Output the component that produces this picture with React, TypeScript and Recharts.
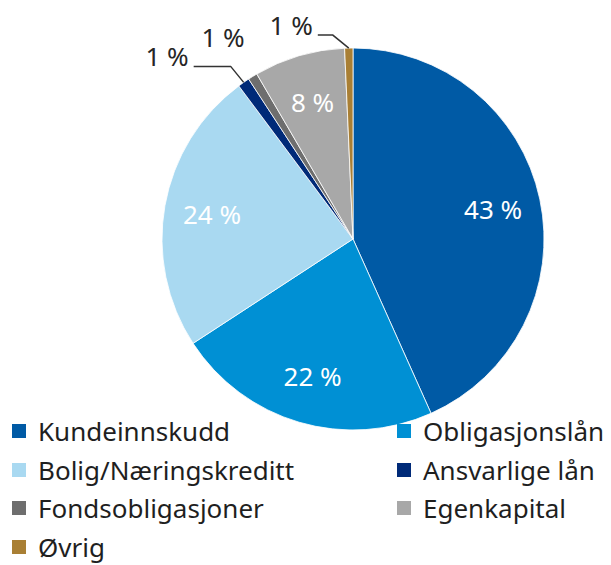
import { PieChart, Pie, Cell, Legend } from "recharts";

const categories = [
  "Kundeinnskudd",
  "Obligasjonslån",
  "Bolig/Næringskreditt",
  "Ansvarlige lån",
  "Fondsobligasjoner",
  "Egenkapital",
  "Øvrig",
];
const shares = [43.3, 22.5, 24.0, 1.0, 0.8, 7.7, 0.7];
const shareLabels = ["43 %", "22 %", "24 %", "1 %", "1 %", "8 %", "1 %"];
const colors = ["#005AA5", "#0090D4", "#A9D9F1", "#002A78", "#6E6E6E", "#A8A8A8", "#A97F34"];

const chartData = categories.map((name, i) => ({ name, value: shares[i], label: shareLabels[i] }));

const FONT = "'Noto Sans', sans-serif";
const RAD = Math.PI / 180;

// leader line / text offsets from the slice edge, for the thin slices
const outside: Record<string, { elbow?: [number, number]; end?: [number, number]; text: [number, number] }> = {
  "Ansvarlige lån": { elbow: [-13, -16], end: [-50, -16], text: [-55, -16] },
  Fondsobligasjoner: { text: [-8, -29] },
  Øvrig: { elbow: [-16, -13], end: [-31, -13], text: [-36, -13] },
};

function renderLabel(props: any) {
  const { cx, cy, midAngle, outerRadius, index } = props;
  const d = chartData[index];
  const lay = outside[d.name];
  if (!lay) {
    const r = outerRadius * 0.75;
    const x = cx + r * Math.cos(-midAngle * RAD);
    const y = cy + r * Math.sin(-midAngle * RAD);
    return (
      <text x={x} y={y} fill="#fff" fontSize={26} fontFamily={FONT} textAnchor="middle" dominantBaseline="central">
        {d.label}
      </text>
    );
  }
  const ex = cx + outerRadius * Math.cos(-midAngle * RAD);
  const ey = cy + outerRadius * Math.sin(-midAngle * RAD);
  return (
    <g>
      {lay.elbow && lay.end && (
        <polyline
          points={`${ex},${ey} ${ex + lay.elbow[0]},${ey + lay.elbow[1]} ${ex + lay.end[0]},${ey + lay.end[1]}`}
          fill="none"
          stroke="#333"
          strokeWidth={1.5}
        />
      )}
      <text x={ex + lay.text[0]} y={ey + lay.text[1]} fill="#262626" fontSize={26} fontFamily={FONT} textAnchor="end">
        {d.label}
      </text>
    </g>
  );
}

// zero-height wrapper so the chart does not reserve room for the legend
function renderLegend() {
  return (
    <div style={{ height: 0, overflow: "visible" }}>
      <div
        style={{
          display: "grid",
          gridTemplateColumns: "385px 214px",
          gridAutoRows: "38.5px",
          paddingLeft: 12,
          fontFamily: FONT,
          fontSize: 26,
          lineHeight: "30px",
          color: "#1f1f1f",
        }}
      >
        {categories.map((name, i) => (
          <div key={name} style={{ display: "flex", alignItems: "center", whiteSpace: "nowrap" }}>
            <span style={{ width: 14, height: 14, background: colors[i], marginRight: 12, flex: "none" }} />
            {name}
          </div>
        ))}
      </div>
    </div>
  );
}

export default function App() {
  return (
    <div>
      <style>{`body{margin:0;background:#fff}`}</style>
      <PieChart width={611} height={565}>
        <Pie
          data={chartData}
          dataKey="value"
          nameKey="name"
          cx={348}
          cy={234}
          outerRadius={191}
          startAngle={90}
          endAngle={-270}
          stroke="#fff"
          strokeWidth={0.8}
          label={renderLabel}
          labelLine={false}
          isAnimationActive={false}
        >
          {chartData.map((d, i) => (
            <Cell key={d.name} fill={colors[i]} />
          ))}
        </Pie>
        <Legend
          content={renderLegend}
          verticalAlign="top"
          wrapperStyle={{ position: "absolute", left: 0, top: 412, width: 611, height: 0 }}
        />
      </PieChart>
    </div>
  );
}
